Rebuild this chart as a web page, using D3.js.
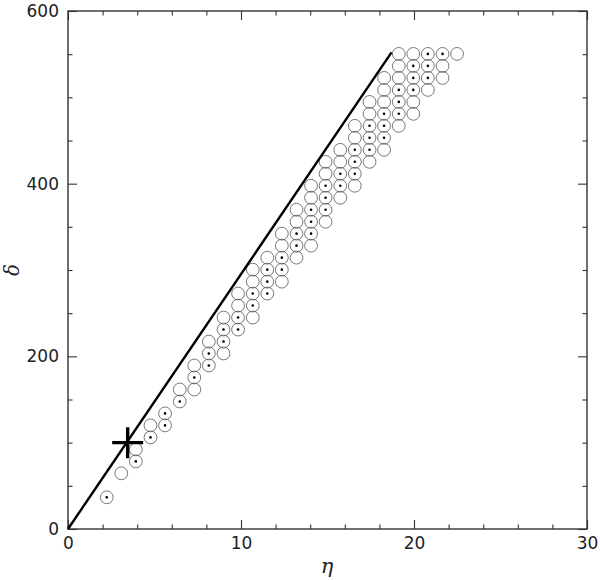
<!DOCTYPE html>
<html>
<head>
<meta charset="utf-8">
<script src="https://cdn.jsdelivr.net/npm/d3@7"></script>
<style>
  html, body { margin: 0; padding: 0; background: #fff; }
  svg { display: block; }
</style>
</head>
<body>
<svg id="chart" width="600" height="580"></svg>
<script>
// ---- data ----
const xTicksMajor = [0, 10, 20, 30];
const yTicksMajor = [0, 200, 400, 600];
const xLabel = "η";
const yLabel = "δ";

// circle positions (η, δ) and whether the circle carries a central dot
const ptEta = [
  2.24,
  3.08,
  3.92, 3.92,
  4.77, 4.77,
  5.61, 5.61,
  6.46, 6.46,
  7.30, 7.30, 7.30,
  8.14, 8.14, 8.14,
  8.99, 8.99, 8.99, 8.99,
  9.83, 9.83, 9.83, 9.83,
  10.68, 10.68, 10.68, 10.68, 10.68,
  11.52, 11.52, 11.52, 11.52,
  12.36, 12.36, 12.36, 12.36, 12.36,
  13.21, 13.21, 13.21, 13.21, 13.21,
  14.05, 14.05, 14.05, 14.05, 14.05, 14.05,
  14.89, 14.89, 14.89, 14.89, 14.89, 14.89,
  15.74, 15.74, 15.74, 15.74, 15.74,
  16.58, 16.58, 16.58, 16.58, 16.58, 16.58,
  17.43, 17.43, 17.43, 17.43, 17.43, 17.43,
  18.27, 18.27, 18.27, 18.27, 18.27, 18.27, 18.27,
  19.12, 19.12, 19.12, 19.12, 19.12, 19.12, 19.12,
  19.96, 19.96, 19.96, 19.96, 19.96, 19.96,
  20.80, 20.80, 20.80, 20.80,
  21.65, 21.65, 21.65,
  22.49
];
const ptDelta = [
  36.7,
  64.5,
  78.3, 92.2,
  106.1, 120.0,
  120.0, 133.9,
  147.7, 161.6,
  161.6, 175.5, 189.4,
  189.4, 203.3, 217.1,
  203.3, 217.1, 231.0, 244.9,
  231.0, 244.9, 258.8, 272.7,
  244.9, 258.8, 272.7, 286.5, 300.4,
  272.7, 286.5, 300.4, 314.3,
  286.5, 300.4, 314.3, 328.2, 342.1,
  314.3, 328.2, 342.1, 355.9, 369.8,
  328.2, 342.1, 355.9, 369.8, 383.7, 397.6,
  355.9, 369.8, 383.7, 397.6, 411.5, 425.3,
  383.7, 397.6, 411.5, 425.3, 439.2,
  397.6, 411.5, 425.3, 439.2, 453.1, 467.0,
  425.3, 439.2, 453.1, 467.0, 480.9, 494.7,
  439.2, 453.1, 467.0, 480.9, 494.7, 508.6, 522.5,
  467.0, 480.9, 494.7, 508.6, 522.5, 536.4, 550.3,
  480.9, 494.7, 508.6, 522.5, 536.4, 550.3,
  508.6, 522.5, 536.4, 550.3,
  522.5, 536.4, 550.3,
  550.3
];
const ptDot = [
  1,
  0,
  1, 0,
  1, 0,
  1, 1,
  1, 0,
  0, 1, 0,
  1, 1, 0,
  0, 1, 1, 0,
  1, 1, 0, 0,
  0, 1, 1, 0, 0,
  1, 1, 1, 0,
  0, 1, 1, 0, 0,
  0, 1, 1, 0, 0,
  0, 1, 1, 1, 0, 0,
  0, 1, 1, 1, 0, 0,
  0, 1, 1, 0, 0,
  0, 1, 1, 1, 0, 0,
  0, 1, 1, 1, 0, 0,
  0, 1, 1, 1, 0, 0, 0,
  0, 1, 1, 1, 0, 0, 0,
  0, 0, 1, 1, 1, 0,
  0, 1, 1, 1,
  0, 0, 1,
  0
];

// boundary line (η, δ) end points and the marked point (cross)
const lineEta = [0, 18.7];
const lineDelta = [0, 552];
const crossEta = [3.45];
const crossDelta = [100];

// ---- drawing ----
const svg = d3.select("#chart");
const mLeft = 68, mRight = 587, mTop = 11, mBottom = 529;

const x = d3.scaleLinear().domain([0, 30]).range([mLeft, mRight]);
const y = d3.scaleLinear().domain([0, 600]).range([mBottom, mTop]);

const axisColor = "#333";
const font = "'DejaVu Sans', sans-serif";

function styleAxis(g) {
  g.select(".domain").remove();
  g.selectAll(".tick line").attr("stroke", axisColor).attr("stroke-width", 1.1);
  g.selectAll(".tick text").attr("fill", "#222").style("font-family", font).style("font-size", "17px");
}

const xMinor = d3.range(0, 31, 2).filter(v => v % 10 !== 0);
const yMinor = d3.range(0, 601, 50).filter(v => v % 200 !== 0);
const majLen = 9, minLen = 4.5;

// bottom
svg.append("g").attr("transform", `translate(0,${mBottom})`)
  .call(d3.axisBottom(x).tickValues(xMinor).tickSizeInner(-minLen).tickSizeOuter(0).tickFormat(""))
  .call(styleAxis);
svg.append("g").attr("transform", `translate(0,${mBottom})`)
  .call(d3.axisBottom(x).tickValues(xTicksMajor).tickSizeInner(-majLen).tickSizeOuter(0).tickPadding(8).tickFormat(d3.format("d")))
  .call(styleAxis);
// top
svg.append("g").attr("transform", `translate(0,${mTop})`)
  .call(d3.axisTop(x).tickValues(xMinor).tickSizeInner(-minLen).tickSizeOuter(0).tickFormat(""))
  .call(styleAxis);
svg.append("g").attr("transform", `translate(0,${mTop})`)
  .call(d3.axisTop(x).tickValues(xTicksMajor).tickSizeInner(-majLen).tickSizeOuter(0).tickFormat(""))
  .call(styleAxis);
// left
svg.append("g").attr("transform", `translate(${mLeft},0)`)
  .call(d3.axisLeft(y).tickValues(yMinor).tickSizeInner(-minLen).tickSizeOuter(0).tickFormat(""))
  .call(styleAxis);
svg.append("g").attr("transform", `translate(${mLeft},0)`)
  .call(d3.axisLeft(y).tickValues(yTicksMajor).tickSizeInner(-majLen).tickSizeOuter(0).tickPadding(9).tickFormat(d3.format("d")))
  .call(styleAxis);
// right
svg.append("g").attr("transform", `translate(${mRight},0)`)
  .call(d3.axisRight(y).tickValues(yMinor).tickSizeInner(-minLen).tickSizeOuter(0).tickFormat(""))
  .call(styleAxis);
svg.append("g").attr("transform", `translate(${mRight},0)`)
  .call(d3.axisRight(y).tickValues(yTicksMajor).tickSizeInner(-majLen).tickSizeOuter(0).tickFormat(""))
  .call(styleAxis);

// frame
svg.append("rect")
  .attr("x", mLeft).attr("y", mTop)
  .attr("width", mRight - mLeft).attr("height", mBottom - mTop)
  .attr("fill", "none").attr("stroke", axisColor).attr("stroke-width", 1.4);

// axis titles
svg.append("text")
  .attr("x", 327).attr("y", 573)
  .attr("text-anchor", "middle")
  .style("font-family", "'DejaVu Serif', serif").style("font-style", "italic").style("font-size", "21px")
  .attr("fill", "#222")
  .text(xLabel);
svg.append("text")
  .attr("transform", `translate(19,${(mTop + mBottom) / 2}) rotate(-90)`)
  .attr("text-anchor", "middle")
  .style("font-family", "'DejaVu Serif', serif").style("font-style", "italic").style("font-size", "20px")
  .attr("fill", "#222")
  .text(yLabel);

// circles
const pts = ptEta.map((e, i) => ({ eta: e, delta: ptDelta[i], dot: ptDot[i] }));
const gp = svg.append("g");
gp.selectAll("circle.ring").data(pts).join("circle")
  .attr("class", "ring")
  .attr("cx", d => x(d.eta)).attr("cy", d => y(d.delta))
  .attr("r", 6.4)
  .attr("fill", "none").attr("stroke", "#555").attr("stroke-width", 0.8);
gp.selectAll("circle.dot").data(pts.filter(d => d.dot)).join("circle")
  .attr("class", "dot")
  .attr("cx", d => x(d.eta)).attr("cy", d => y(d.delta))
  .attr("r", 1.3)
  .attr("fill", "#000");

// line
const lineData = lineEta.map((e, i) => [e, lineDelta[i]]);
svg.append("path")
  .datum(lineData)
  .attr("d", d3.line().x(d => x(d[0])).y(d => y(d[1])))
  .attr("fill", "none").attr("stroke", "#000").attr("stroke-width", 2.4);

// cross
const crossData = crossEta.map((e, i) => ({ eta: e, delta: crossDelta[i] }));
svg.selectAll("path.cross").data(crossData).join("path")
  .attr("class", "cross")
  .attr("transform", d => `translate(${x(d.eta)},${y(d.delta)})`)
  .attr("d", "M-15.5,0H15.5M0,-15.5V15.5")
  .attr("stroke", "#000").attr("stroke-width", 3.4).attr("fill", "none");
</script>
</body>
</html>
